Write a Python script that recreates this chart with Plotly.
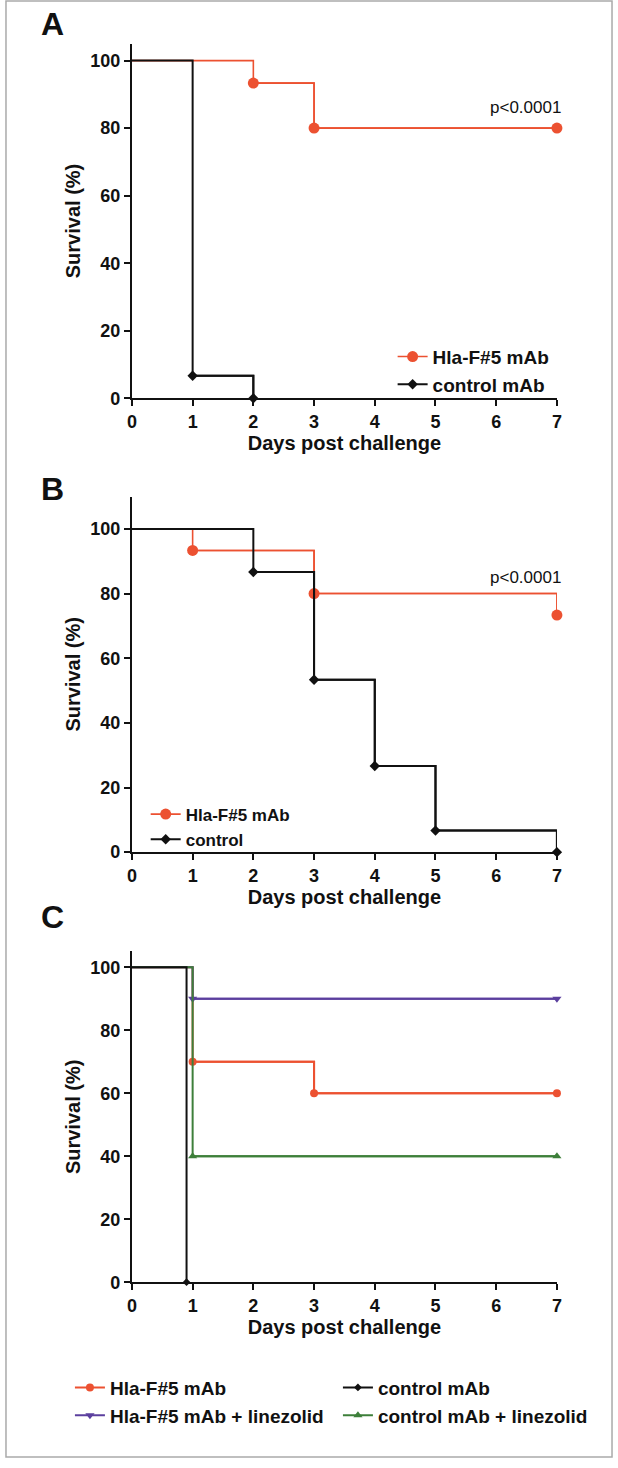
import plotly.graph_objects as go

# ---------------- data ----------------
days_ticks = [0, 1, 2, 3, 4, 5, 6, 7]
surv_ticks = [0, 20, 40, 60, 80, 100]

# Panel A
A_hla_days = [0, 2, 3, 7]
A_hla_surv = [100, 93.33, 80, 80]
A_ctrl_days = [0, 1, 2]
A_ctrl_surv = [100, 6.67, 0]

# Panel B
B_hla_days = [0, 1, 3, 7]
B_hla_surv = [100, 93.33, 80, 73.33]
B_ctrl_days = [0, 2, 3, 4, 5, 7]
B_ctrl_surv = [100, 86.67, 53.33, 26.67, 6.67, 0]

# Panel C
C_hla_days = [0, 1, 3, 7]
C_hla_surv = [100, 70, 60, 60]
C_ctrl_days = [0, 0.9]
C_ctrl_surv = [100, 0]
C_hlalin_days = [0, 1, 7]
C_hlalin_surv = [100, 90, 90]
C_ctrllin_days = [0, 1, 7]
C_ctrllin_surv = [100, 40, 40]

p_text = "p<0.0001"

# ---------------- styling ----------------
W, H = 618, 1468
RED = "#EC5131"
BLACK = "#111111"
PURPLE = "#5B3F9E"
GREEN = "#3D7F3A"
FONT = "Liberation Sans"

def px(x):
    return x / W

def py(y):
    return 1 - y / H

fig = go.Figure()

def add_series(days, surv, name, color, symbol, msize, lw, xa, ya, legend, rank, showlegend=True):
    # full step path (start + events), line only
    fig.add_trace(go.Scatter(
        x=days, y=surv, mode="lines", line=dict(color=color, width=lw, shape="hv"),
        xaxis=xa, yaxis=ya, showlegend=False, hoverinfo="skip", cliponaxis=False))
    # events with markers (legend entry)
    fig.add_trace(go.Scatter(
        x=days[1:], y=surv[1:], mode="lines+markers", name=name,
        line=dict(color=color, width=lw, shape="hv"),
        marker=dict(color=color, symbol=symbol, size=msize),
        xaxis=xa, yaxis=ya, legend=legend, legendrank=rank,
        showlegend=showlegend, cliponaxis=False))

# Panel A
add_series(A_hla_days, A_hla_surv, "Hla-F#5 mAb", RED, "circle", 11, 1.6, "x", "y", "legend", 1)
add_series(A_ctrl_days, A_ctrl_surv, "control mAb", BLACK, "diamond", 8, 2, "x", "y", "legend", 2)

# Panel B
add_series(B_hla_days, B_hla_surv, "Hla-F#5 mAb", RED, "circle", 11, 1.6, "x2", "y2", "legend2", 1)
add_series(B_ctrl_days, B_ctrl_surv, "control", BLACK, "diamond", 8, 2, "x2", "y2", "legend2", 2)

# Panel C
add_series(C_hla_days, C_hla_surv, "Hla-F#5 mAb", RED, "circle", 8, 2, "x3", "y3", "legend3", 1)
add_series(C_hlalin_days, C_hlalin_surv, "Hla-F#5 mAb + linezolid", PURPLE, "triangle-down", 8, 2, "x3", "y3", "legend3", 3)
add_series(C_ctrllin_days, C_ctrllin_surv, "control mAb + linezolid", GREEN, "triangle-up", 8, 2, "x3", "y3", "legend3", 4)
add_series(C_ctrl_days, C_ctrl_surv, "control mAb", BLACK, "diamond", 6, 2, "x3", "y3", "legend3", 2)

# ---------------- axes ----------------
x_dom = [px(129), px(561)]
panels = [
    # (xaxis key, yaxis key, y bottom px, y top px, y max)
    ("xaxis", "yaxis", 401, 44, 105),
    ("xaxis2", "yaxis2", 858, 500, 110),
    ("xaxis3", "yaxis3", 1291, 958, 105),
]
tickfont = dict(family=FONT, size=18, color=BLACK, weight="bold")
titlefont = dict(family=FONT, size=20, color=BLACK, weight="bold")

for i, (xk, yk, yb, yt, ymax) in enumerate(panels):
    anchor_x = "y" if i == 0 else f"y{i+1}"
    anchor_y = "x" if i == 0 else f"x{i+1}"
    fig.layout[xk] = dict(
        domain=x_dom, anchor=anchor_x, range=[0, 7], tickvals=days_ticks,
        showgrid=False, zeroline=False, showline=True, linecolor=BLACK, linewidth=2,
        ticks="outside", ticklen=6, tickwidth=2, tickcolor=BLACK, tickfont=tickfont,
        title=dict(text="Days post challenge", font=titlefont, standoff=1),
        fixedrange=True)
    fig.layout[yk] = dict(
        domain=[py(yb), py(yt)], anchor=anchor_y, range=[0, ymax], tickvals=surv_ticks,
        showgrid=False, zeroline=False, showline=True, linecolor=BLACK, linewidth=2,
        ticks="outside", ticklen=6, tickwidth=2, tickcolor=BLACK, tickfont=tickfont,
        title=dict(text="Survival (%)", font=titlefont, standoff=4),
        fixedrange=True)

# ---------------- annotations ----------------
ann = []
for letter, ly in [("A", 24), ("B", 492), ("C", 923)]:
    ann.append(dict(x=px(48), y=py(ly), xref="paper", yref="paper", text=letter,
                    showarrow=False, xanchor="center", yanchor="middle",
                    font=dict(family=FONT, size=32, color=BLACK, weight="bold")))
ann.append(dict(x=7, y=86, xref="x", yref="y", text=p_text, showarrow=False,
                xanchor="right", yanchor="middle", xshift=6,
                font=dict(family=FONT, size=17, color=BLACK)))
ann.append(dict(x=7, y=85, xref="x2", yref="y2", text=p_text, showarrow=False,
                xanchor="right", yanchor="middle", xshift=6,
                font=dict(family=FONT, size=17, color=BLACK)))

legfont = dict(family=FONT, size=19, color=BLACK, weight="bold")
fig.update_layout(
    width=W, height=H,
    margin=dict(l=0, r=0, t=0, b=0),
    paper_bgcolor="white", plot_bgcolor="white",
    font=dict(family=FONT, color=BLACK),
    annotations=ann,
    legend=dict(x=px(394), y=py(340), xanchor="left", yanchor="top",
                bgcolor="rgba(0,0,0,0)", font=legfont, traceorder="normal"),
    legend2=dict(x=px(143), y=py(802), xanchor="left", yanchor="top",
                 bgcolor="rgba(0,0,0,0)", font=dict(family=FONT, size=17, color=BLACK, weight="bold"),
                 traceorder="normal", tracegroupgap=0),
    legend3=dict(x=px(66), y=py(1378), xanchor="left", yanchor="top",
                 orientation="h", entrywidth=223, entrywidthmode="pixels",
                 bgcolor="rgba(0,0,0,0)", font=legfont, traceorder="normal"),
    shapes=[dict(type="rect", xref="paper", yref="paper",
                 x0=px(1), x1=px(617), y0=py(1467), y1=py(1),
                 line=dict(color="#AAAAAA", width=1.5))],
    showlegend=True,
)

fig.write_html(
    "out.html", config={"displayModeBar": False},
    post_script=(
        "document.documentElement.style.margin='0';"
        "document.documentElement.style.padding='0';"
        "document.documentElement.style.overflow='hidden';"
        "document.body.style.margin='0';"
        "document.body.style.padding='0';"
        "document.body.style.overflow='hidden';"
        "document.body.style.height='1468px';"
    ),
)
